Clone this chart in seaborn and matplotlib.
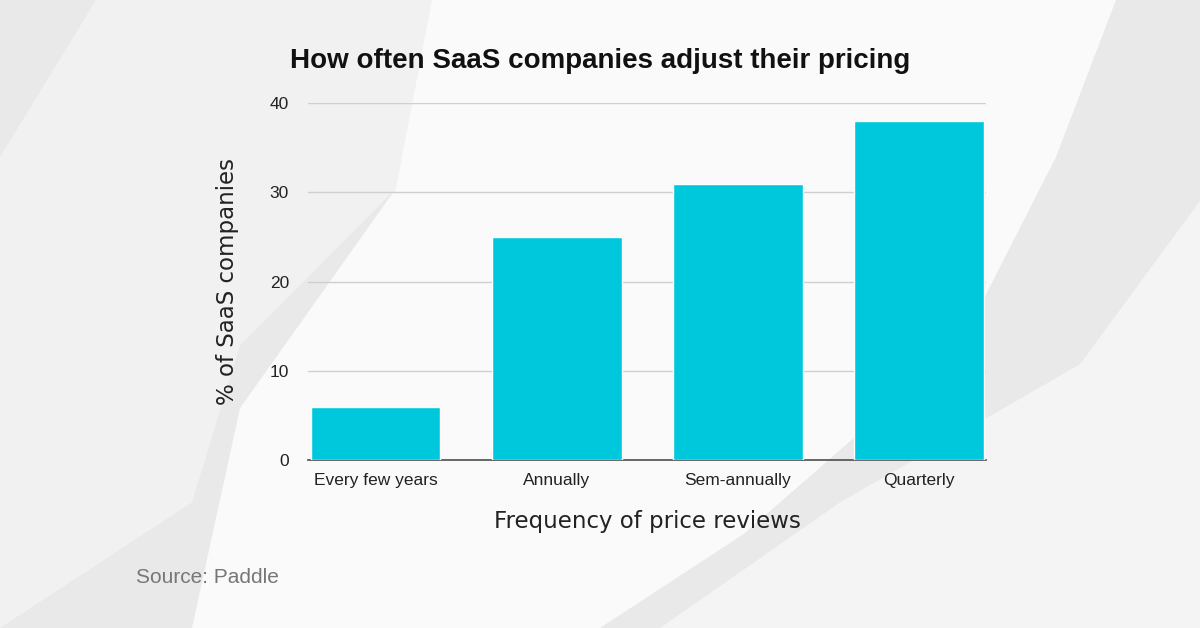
import matplotlib
matplotlib.use("Agg")
import matplotlib.pyplot as plt
from matplotlib.patches import Polygon
import seaborn as sns
import pandas as pd

# Data
categories = ["Every few years", "Annually", "Sem-annually", "Quarterly"]
values = [6, 25, 31, 38]
y_ticks = [0, 10, 20, 30, 40]

sns.set_theme(style="white")
plt.rcParams["font.family"] = ["Liberation Sans", "DejaVu Sans"]

fig = plt.figure(figsize=(12, 6.28), dpi=100)
fig.patch.set_facecolor("#e9e9e9")

# Soft background shapes on a separate axes behind everything
bg = fig.add_axes([0, 0, 1, 1], zorder=-10)
bg.set_xlim(0, 1)
bg.set_ylim(0, 1)
bg.axis("off")
bg.add_patch(Polygon([(0.08, 1), (0.38, 1), (0.33, 0.7), (0.2, 0.45), (0.16, 0.2), (0.0, 0.0), (0.0, 0.75)],
                     closed=True, facecolor="#f1f1f1", edgecolor="none"))
bg.add_patch(Polygon([(0.36, 1), (0.93, 1), (0.88, 0.75), (0.8, 0.45), (0.62, 0.15), (0.5, 0.0),
                      (0.16, 0.0), (0.2, 0.35), (0.33, 0.7)],
                     closed=True, facecolor="#fafafa", edgecolor="none"))
bg.add_patch(Polygon([(1.0, 0.68), (0.9, 0.42), (0.7, 0.2), (0.55, 0.0), (1.0, 0.0)],
                     closed=True, facecolor="#f4f4f4", edgecolor="none"))

ax = fig.add_axes([0.257, 0.2675, 0.565, 0.568])
ax.set_facecolor("none")

df = pd.DataFrame({"freq": categories, "pct": values})
sns.barplot(data=df, x="freq", y="pct", color="#00c8dc", saturation=1, width=0.716, ax=ax, zorder=3)

ax.set_xlim(-0.37, 3.37)
ax.set_ylim(0, 40)
ax.set_yticks(y_ticks)
ax.yaxis.grid(True, color="#cfcfcf", linewidth=1, zorder=0)
ax.set_axisbelow(True)
for s in ["top", "right", "left"]:
    ax.spines[s].set_visible(False)
ax.spines["bottom"].set_color("#555555")
ax.tick_params(axis="both", labelsize=12.5, colors="#222222", length=0)
ax.tick_params(axis="y", pad=14)
ax.tick_params(axis="x", pad=9)

ax.set_xlabel("Frequency of price reviews", fontsize=16.5, color="#222222",
              family=["DejaVu Sans"], labelpad=16)
ax.set_ylabel("% of SaaS companies", fontsize=16.5, color="#222222",
              family=["DejaVu Sans"], labelpad=22)

fig.text(0.5, 0.903, "How often SaaS companies adjust their pricing", ha="center", va="center",
         fontsize=20, fontweight="bold", color="#111111")
fig.text(0.113, 0.081, "Source: Paddle", ha="left", va="center", fontsize=15, color="#777777")

fig.savefig("out.png", dpi=100, facecolor=fig.get_facecolor())
